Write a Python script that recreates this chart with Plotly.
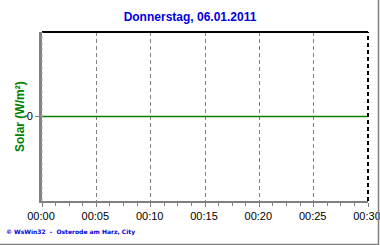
import plotly.graph_objects as go

title_text = "Donnerstag, 06.01.2011"
y_title = "Solar (W/m²)"
footer = "© WsWin32  -  Osterode am Harz, City"
minutes = [0, 5, 10, 15, 20, 25, 30]
tick_labels = ["00:00", "00:05", "00:10", "00:15", "00:20", "00:25", "00:30"]
solar = [0, 0, 0, 0, 0, 0, 0]

fig = go.Figure()
fig.add_trace(go.Scatter(x=minutes, y=solar, mode="lines",
                         line=dict(color="#008000", width=1.5), hoverinfo="skip"))

fig.update_layout(
    width=380, height=245,
    margin=dict(l=42, r=12, t=32, b=44, autoexpand=False),
    paper_bgcolor="white", plot_bgcolor="white",
    showlegend=False,
    font=dict(family="Arial, Liberation Sans", color="black"),
    title=dict(text=title_text, x=0.5, xanchor="center", y=1 - 17 / 245, yanchor="middle",
               font=dict(family="Arial, Liberation Sans", size=12, color="#0000E0", weight="bold")),
)
fig.update_xaxes(
    range=[0, 30], tickvals=minutes, ticktext=tick_labels,
    showgrid=True, gridcolor="#808080", griddash="4px,3px", gridwidth=1,
    showline=True, linecolor="#808080", linewidth=2,
    ticks="outside", ticklen=4, tickcolor="#808080",
    minor=dict(dtick=1.25, ticks="outside", ticklen=3, tickcolor="#808080", showgrid=False),
    tickfont=dict(size=11, color="black"), zeroline=False,
    ticklabeloverflow="allow", automargin=False, ticklabelshift=-1,
)
fig.update_yaxes(
    range=[-1, 1], tickvals=[0], ticktext=["0"],
    showgrid=False, zeroline=False,
    showline=True, linecolor="#808080", linewidth=3,
    ticks="outside", ticklen=4, tickcolor="#808080",
    tickfont=dict(size=11, color="black"), automargin=False,
)
# y-axis title
fig.add_annotation(text=y_title, xref="paper", yref="paper",
                   x=(19.5 - 42) / 326, y=0.5, textangle=-90,
                   xanchor="center", yanchor="middle", showarrow=False,
                   font=dict(family="Arial, Liberation Sans", size=12, color="#008000", weight="bold"))
# top and right frame
fig.add_shape(type="line", xref="paper", yref="paper", x0=0, x1=1, y0=1, y1=1,
              line=dict(color="black", width=2))
fig.add_shape(type="line", xref="paper", yref="paper", x0=1, x1=1, y0=0, y1=1,
              line=dict(color="black", width=2, dash="4px,3px"))
# dashed highlight on left axis
fig.add_shape(type="line", xref="paper", yref="paper", x0=0, x1=0, y0=0, y1=1,
              line=dict(color="#B0B0B0", width=1, dash="3px,3px"))
# outer window border (right and bottom)
fig.add_shape(type="line", xref="paper", yref="paper",
              x0=(378.5 - 42) / 326, x1=(378.5 - 42) / 326, y0=-44 / 169, y1=32 / 169 + 1,
              line=dict(color="#808080", width=1.5))
fig.add_shape(type="line", xref="paper", yref="paper",
              x0=-42 / 326, x1=(378.5 - 42) / 326, y0=-43.5 / 169, y1=-43.5 / 169,
              line=dict(color="#808080", width=1.5))
fig.add_annotation(text=footer, xref="paper", yref="paper",
                   x=-38 / 326, y=-(232 - 201) / 169, xanchor="left", yanchor="middle",
                   showarrow=False,
                   font=dict(family="Verdana, DejaVu Sans", size=6, color="#0000E0", weight="bold"))

fig.write_html("out.html")
